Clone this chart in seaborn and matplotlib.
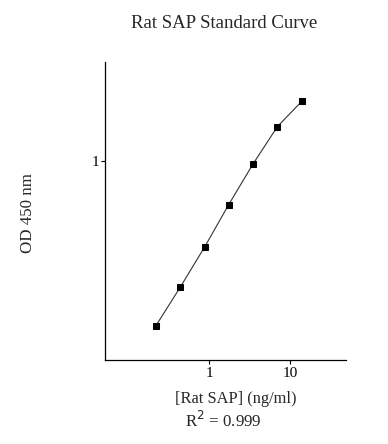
import seaborn as sns
import matplotlib.pyplot as plt
import pandas as pd

# Standard curve data
conc_ng_ml = [0.22, 0.44, 0.88, 1.75, 3.5, 7.0, 14.0]
od_450 = [0.093, 0.162, 0.289, 0.533, 0.958, 1.64, 2.36]
x_ticks = [1, 10]
x_tick_labels = ["1", "10"]
y_ticks = [1]
y_tick_labels = ["1"]

df = pd.DataFrame({"conc": conc_ng_ml, "od": od_450})

sns.set_theme(style="ticks")
plt.rcParams["font.family"] = ["Liberation Serif", "DejaVu Serif"]

fig = plt.figure(figsize=(3.88, 4.44), dpi=100)
ax = fig.add_axes([0.2706, 0.1892, 0.621, 0.6712])

sns.lineplot(data=df, x="conc", y="od", ax=ax, color="#333333", linewidth=0.8,
             marker="s", markersize=4.5, markerfacecolor="black",
             markeredgecolor="black")

ax.set_xscale("log")
ax.set_yscale("log")
ax.set_xlim(0.052, 49)
ax.set_ylim(0.057, 4.15)
ax.set_xticks(x_ticks)
ax.set_xticklabels(x_tick_labels)
ax.set_yticks(y_ticks)
ax.set_yticklabels(y_tick_labels)
ax.minorticks_off()
ax.tick_params(axis="both", direction="out", length=3, width=0.8,
               labelsize=11, colors="black")
ax.tick_params(axis="x", pad=2)
ax.tick_params(axis="y", pad=1)
ax.set_xlabel("")
ax.set_ylabel("")
sns.despine(ax=ax)
for s in ["left", "bottom"]:
    ax.spines[s].set_linewidth(0.9)
    ax.spines[s].set_color("black")

fig.text(0.578, 0.948, "Rat SAP Standard Curve", ha="center", va="center",
         fontsize=13.5)
fig.text(0.608, 0.101, "[Rat SAP] (ng/ml)", ha="center", va="center",
         fontsize=11.8)
fig.text(0.575, 0.052, r"R$^2$ = 0.999", ha="center", va="center",
         fontsize=12.2)
fig.text(0.072, 0.52, "OD 450 nm", ha="center", va="center", rotation=90,
         fontsize=12.2)

fig.savefig("out.png", dpi=100, facecolor="white")
